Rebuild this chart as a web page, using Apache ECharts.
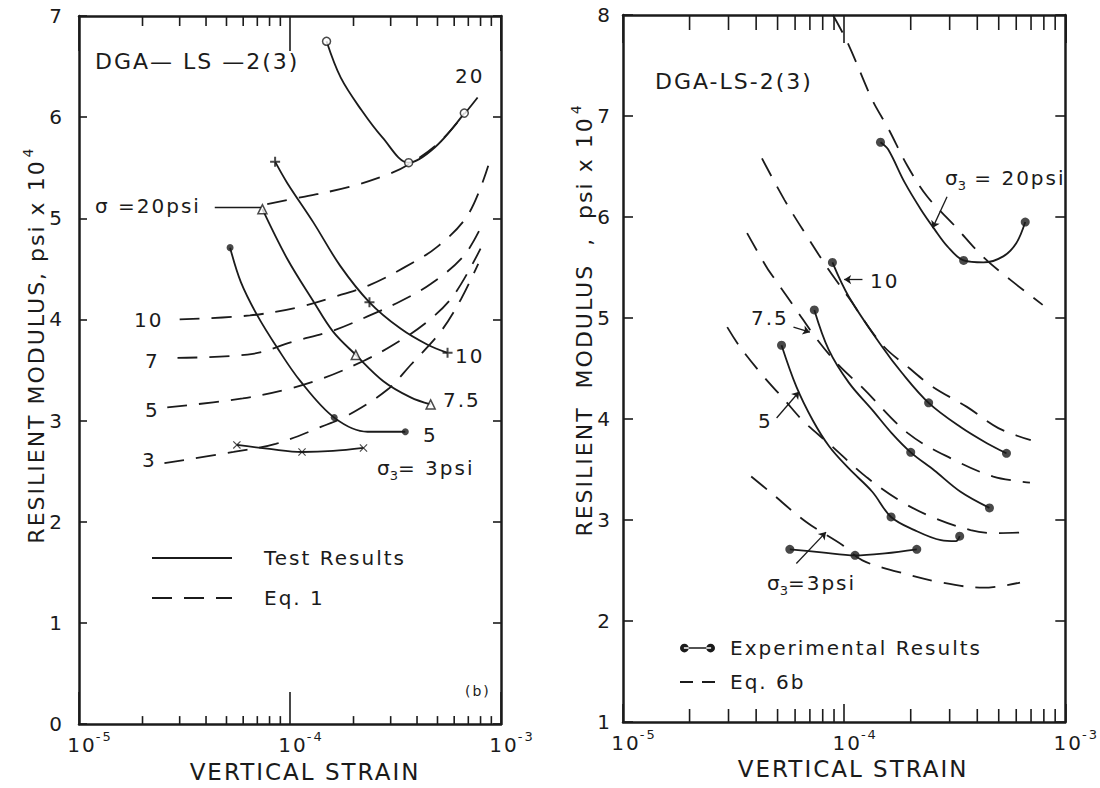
<!DOCTYPE html>
<html>
<head>
<meta charset="utf-8">
<script src="https://cdn.jsdelivr.net/npm/echarts@6.0.0/dist/echarts.min.js"></script>
<style>
  html, body { margin: 0; padding: 0; background: #fff; }
  #chart { width: 1100px; height: 788px; }
  /* the original lettering is widely spaced */
  #chart text { letter-spacing: 2px; }
</style>
</head>
<body>
<div id="chart"></div>
<script>
// ---- strain axis (both panels, log scale)
const strainDecades = [1e-5, 1e-4, 1e-3];
const strainMinorTicks = [2e-5, 3e-5, 4e-5, 5e-5, 6e-5, 7e-5, 8e-5, 9e-5,
                          2e-4, 3e-4, 4e-4, 5e-4, 6e-4, 7e-4, 8e-4, 9e-4];
const modulusRangeB = [0, 7];   // psi x 10^4, panel (b)
const modulusRangeR = [1, 8];   // psi x 10^4, right panel

// ---- panel (b): test results (markers) and traced curves, sigma3 = 20 / 10 / 7.5 / 5 / 3 psi
const test20 = [[1.49e-4, 6.75], [3.65e-4, 5.55], [6.7e-4, 6.04]];
const test20Trace = [[1.49e-4, 6.75], [1.74e-4, 6.39], [2.18e-4, 6.07], [2.74e-4, 5.80], [3.65e-4, 5.55], [4.85e-4, 5.70], [6.7e-4, 6.04]];
const test10 = [[8.5e-5, 5.56], [2.38e-4, 4.17], [5.58e-4, 3.67]];
const test10Trace = [[8.5e-5, 5.56], [9.7e-5, 5.35], [1.29e-4, 4.96], [1.73e-4, 4.53], [2.38e-4, 4.17], [3.34e-4, 3.91], [4.49e-4, 3.75], [5.58e-4, 3.67]];
const test75 = [[7.4e-5, 5.09], [2.05e-4, 3.65], [4.64e-4, 3.16]];
const test75Trace = [[7.4e-5, 5.09], [9.7e-5, 4.60], [1.29e-4, 4.18], [1.6e-4, 3.88], [2.05e-4, 3.65], [2.77e-4, 3.39], [3.73e-4, 3.23], [4.64e-4, 3.16]];
const test5 = [[5.2e-5, 4.71], [1.62e-4, 3.03], [3.52e-4, 2.89]];
const test5Trace = [[5.2e-5, 4.71], [5.85e-5, 4.37], [7.0e-5, 4.04], [8.7e-5, 3.72], [1.12e-4, 3.39], [1.62e-4, 3.03], [2.33e-4, 2.89], [3.52e-4, 2.89]];
const test3 = [[5.6e-5, 2.76], [1.14e-4, 2.69], [2.23e-4, 2.73]];
const test3Trace = [[5.6e-5, 2.76], [8.0e-5, 2.72], [1.14e-4, 2.69], [1.6e-4, 2.70], [2.23e-4, 2.73]];

// Eq. 1 curves
const eq1s20 = [[7.8e-5, 5.14], [1.14e-4, 5.21], [1.91e-4, 5.31], [2.96e-4, 5.44], [3.7e-4, 5.54], [5.03e-4, 5.74], [6.7e-4, 6.03], [8.2e-4, 6.26]];
const eq1s10 = [[3.0e-5, 4.00], [6.46e-5, 4.04], [1.09e-4, 4.12], [1.6e-4, 4.22], [2.38e-4, 4.34], [3.45e-4, 4.51], [5.0e-4, 4.72], [7.0e-4, 5.04], [8.7e-4, 5.52]];
const eq1s7 = [[2.93e-5, 3.62], [6.67e-5, 3.66], [1.03e-4, 3.78], [1.6e-4, 3.89], [2.33e-4, 4.03], [3.34e-4, 4.18], [4.64e-4, 4.35], [6.67e-4, 4.63], [8.2e-4, 4.95]];
const eq1s5 = [[2.62e-5, 3.13], [5.97e-5, 3.22], [9.7e-5, 3.31], [1.44e-4, 3.42], [2.23e-4, 3.59], [3.09e-4, 3.75], [4.49e-4, 3.98], [5.97e-4, 4.24], [8.0e-4, 4.70]];
const eq1s3 = [[2.54e-5, 2.58], [5.4e-5, 2.69], [8.55e-5, 2.77], [1.41e-4, 2.94], [1.91e-4, 3.06], [2.91e-4, 3.31], [3.73e-4, 3.55], [5.18e-4, 3.88], [6.46e-4, 4.2], [7.8e-4, 4.55]];
const leadersB = [[[4.4e-5, 5.11], [7.3e-5, 5.11]]];

// ---- right panel: experimental results and Eq. 6b
const exp20 = [[1.46e-4, 6.74], [3.47e-4, 5.57], [6.59e-4, 5.95]];
const exp20Trace = [[1.46e-4, 6.74], [1.58e-4, 6.67], [1.88e-4, 6.34], [2.23e-4, 6.07], [2.56e-4, 5.88], [2.93e-4, 5.71], [3.47e-4, 5.57], [4.27e-4, 5.55], [5.24e-4, 5.61], [6.0e-4, 5.74], [6.59e-4, 5.95]];
const exp10 = [[8.85e-5, 5.55], [2.41e-4, 4.16], [5.42e-4, 3.66]];
const exp10Trace = [[8.85e-5, 5.55], [1.05e-4, 5.21], [1.48e-4, 4.72], [1.82e-4, 4.46], [2.41e-4, 4.16], [3.36e-4, 3.92], [4.42e-4, 3.76], [5.42e-4, 3.66]];
const exp75 = [[7.33e-5, 5.08], [2.0e-4, 3.67], [4.54e-4, 3.12]];
const exp75Trace = [[7.33e-5, 5.08], [8.5e-5, 4.69], [1.05e-4, 4.36], [1.34e-4, 4.09], [1.64e-4, 3.86], [2.0e-4, 3.67], [2.56e-4, 3.49], [3.36e-4, 3.28], [4.54e-4, 3.12]];
const exp5 = [[5.21e-5, 4.73], [1.63e-4, 3.03], [3.33e-4, 2.84]];
const exp5Trace = [[5.21e-5, 4.73], [6.08e-5, 4.32], [7.2e-5, 3.99], [8.55e-5, 3.73], [1.05e-4, 3.51], [1.34e-4, 3.28], [1.63e-4, 3.03], [2.08e-4, 2.90], [2.74e-4, 2.80], [3.2e-4, 2.79], [3.33e-4, 2.84]];
const exp3 = [[5.68e-5, 2.71], [1.12e-4, 2.65], [2.13e-4, 2.71]];
const exp3Trace = [[5.68e-5, 2.71], [7.9e-5, 2.68], [1.12e-4, 2.65], [1.53e-4, 2.67], [2.13e-4, 2.71]];

const eq6s20 = [[8.9e-5, 8.0], [1.04e-4, 7.72], [1.34e-4, 7.16], [1.58e-4, 6.88], [1.94e-4, 6.50], [2.38e-4, 6.20], [3.14e-4, 5.92], [4.27e-4, 5.60], [5.63e-4, 5.38], [7.9e-4, 5.13]];
const eq6s10 = [[4.25e-5, 6.58], [5.37e-5, 6.17], [6.74e-5, 5.82], [8.5e-5, 5.48], [1.05e-4, 5.20], [1.48e-4, 4.74], [1.98e-4, 4.50], [2.51e-4, 4.32], [3.59e-4, 4.12], [4.98e-4, 3.91], [6.98e-4, 3.79]];
const eq6s75 = [[3.64e-5, 5.84], [4.47e-5, 5.50], [4.95e-5, 5.36], [6.08e-5, 5.08], [7.47e-5, 4.80], [9.47e-5, 4.53], [1.21e-4, 4.31], [1.94e-4, 3.86], [3.04e-4, 3.61], [4.73e-4, 3.43], [6.92e-4, 3.37]];
const eq6s5 = [[2.96e-5, 4.91], [3.39e-5, 4.71], [4.25e-5, 4.44], [5.37e-5, 4.19], [6.6e-5, 3.97], [8.5e-5, 3.76], [1.27e-4, 3.42], [1.82e-4, 3.18], [2.56e-4, 3.02], [3.73e-4, 2.90], [4.73e-4, 2.87], [6.92e-4, 2.88]];
const eq6s3 = [[3.8e-5, 3.43], [4.61e-5, 3.28], [6.74e-5, 2.98], [9.85e-5, 2.75], [1.21e-4, 2.60], [1.73e-4, 2.49], [2.77e-4, 2.38], [4.27e-4, 2.33], [6.24e-4, 2.38]];
const leadersR = [
  [[2.92e-4, 6.20], [2.51e-4, 5.89]],
  [[1.21e-4, 5.38], [1.0e-4, 5.38]],
  [[5.9e-5, 4.91], [7.0e-5, 4.86]],
  [[4.95e-5, 4.01], [6.26e-5, 4.27]],
  [[6.08e-5, 2.57], [8.28e-5, 2.88]]
];

const INK = '#1b1b1b';
const FONT = '"DejaVu Sans", "Liberation Sans", sans-serif';
const PLUS = 'path://M4,0h2v4h4v2h-4v4h-2v-4h-4v-2h4z';
const CROSS = 'path://M1,0L5,4L9,0L10,1L6,5L10,9L9,10L5,6L1,10L0,9L4,5L0,1z';
const DOT_LINE = 'path://M0,5a4.5,4.5 0 1,0 9,0a4.5,4.5 0 1,0 -9,0z M27,5a4.5,4.5 0 1,0 9,0a4.5,4.5 0 1,0 -9,0z M4,4.2h28v1.6h-28z';

let chart = echarts.init(document.getElementById('chart'), null, {renderer: 'svg'});

function curve(name, data, ax, dashed) {
  return {
    type: 'line', name: name, data: data, xAxisIndex: ax, yAxisIndex: ax,
    smooth: 0.35, symbol: 'none', silent: true, z: 3,
    lineStyle: {color: INK, width: 1.8, type: dashed ? [20, 12] : 'solid'},
    itemStyle: {color: INK}
  };
}
function marks(name, data, ax, symbol, size, open) {
  return {
    type: 'scatter', name: name, data: data, xAxisIndex: ax, yAxisIndex: ax,
    symbol: symbol, symbolSize: size, silent: true, z: 5,
    itemStyle: open ? {color: '#fff', borderColor: INK, borderWidth: 1.5} : {color: INK}
  };
}
function leaders(name, list, ax, arrow) {
  return {
    type: 'lines', name: name, coordinateSystem: 'cartesian2d', xAxisIndex: ax, yAxisIndex: ax,
    silent: true, z: 4, symbol: arrow ? ['none', 'arrow'] : 'none', symbolSize: 7,
    lineStyle: {color: INK, width: 1.3, opacity: 1, curveness: 0},
    data: list.map(c => ({coords: c}))
  };
}
// minor log ticks (2..9) drawn inward from bottom and top edge
function minorTicks(ax, yRange, lenBottom, lenTop) {
  return {
    type: 'custom', name: 'minor' + ax, xAxisIndex: ax, yAxisIndex: ax, silent: true, clip: false, z: 6,
    data: strainMinorTicks.map(v => [v, yRange[0]]),
    renderItem: function (params, api) {
      const v = api.value(0);
      const b = api.coord([v, yRange[0]]);
      const t = api.coord([v, yRange[1]]);
      return {type: 'group', children: [
        {type: 'line', shape: {x1: b[0], y1: b[1], x2: b[0], y2: b[1] - lenBottom}, style: {stroke: INK, lineWidth: 1.6}},
        {type: 'line', shape: {x1: t[0], y1: t[1], x2: t[0], y2: t[1] + lenTop}, style: {stroke: INK, lineWidth: 1.6}}
      ]};
    }
  };
}

const expRich = {
  sp: {width: 22},
  b: {fontSize: 20, lineHeight: 30, fontFamily: FONT, color: INK},
  sup: {fontSize: 13, verticalAlign: 'top', padding: [0, 0, 0, 3], fontFamily: FONT, color: INK}
};
function strainAxis(grid, pos, tickLen, lead) {
  const top = pos === 'top';
  return {
    gridIndex: grid, type: 'log', logBase: 10, position: pos,
    min: strainDecades[0], max: strainDecades[strainDecades.length - 1],
    axisLine: {show: true, onZero: false, lineStyle: {color: INK, width: 2.5}},
    axisTick: {show: true, inside: true, length: tickLen, lineStyle: {color: INK, width: 1.6}},
    axisLabel: top ? {show: false} : {
      margin: 6,
      formatter: v => '{sp|}{b|10}{sup|' + Math.round(Math.log10(v)) + '}',
      rich: expRich
    },
    splitLine: {show: false},
    name: top ? '' : '{a|}{b|VERTICAL STRAIN}',
    nameLocation: 'middle', nameGap: 32,
    nameTextStyle: {rich: {a: {width: lead || 0}, b: {fontSize: 23, fontFamily: FONT, color: INK}}}
  };
}
function modulusAxis(grid, pos, range, tickLen, margin, gap, title, lead, supPad) {
  const right = pos === 'right';
  return {
    gridIndex: grid, type: 'value', position: pos, min: range[0], max: range[1], interval: 1,
    axisLine: {show: true, onZero: false, lineStyle: {color: INK, width: 2.5}},
    axisTick: {show: true, inside: true, length: tickLen, lineStyle: {color: INK, width: 1.6}},
    axisLabel: right ? {show: false} : {margin: margin, fontSize: 20, fontFamily: FONT, color: INK},
    splitLine: {show: false},
    name: right ? '' : '{a|}{b|' + title + '}{sup|4}',
    nameLocation: 'middle', nameGap: gap,
    nameTextStyle: {rich: {
      a: {width: lead},
      b: {fontSize: 22, lineHeight: 30, fontFamily: FONT, color: INK},
      sup: {fontSize: 14, verticalAlign: 'top', padding: [0, 0, 0, supPad], fontFamily: FONT, color: INK}
    }}
  };
}

function text(x, y, str, size) {
  return {type: 'text', left: x, top: y, silent: true,
          style: {text: str, fontFamily: FONT, fontSize: size || 20, fill: INK}};
}
function sigma3(x, y, rest) {
  return {type: 'text', left: x, top: y, silent: true, style: {
    text: '{b|σ}{sub|3}{b|' + rest + '}',
    rich: {
      b: {fontSize: 20, lineHeight: 28, fontFamily: FONT, fill: INK},
      sub: {fontSize: 13, verticalAlign: 'bottom', fontFamily: FONT, fill: INK}
    }
  }};
}

let option = {
  backgroundColor: '#fff',
  animation: false,
  grid: [
    {left: 79, top: 16, width: 422, height: 712},
    {left: 623, top: 15, width: 450, height: 707}
  ],
  xAxis: [
    strainAxis(0, 'bottom', 32, 30),
    strainAxis(1, 'bottom', 18, 18),
    strainAxis(0, 'top', 35),
    strainAxis(1, 'top', 28)
  ],
  yAxis: [
    modulusAxis(0, 'left', modulusRangeB, 8, 15, 25, 'RESILIENT MODULUS, psi x 10', 76, 30),
    modulusAxis(1, 'left', modulusRangeR, 10, 11, 21, 'RESILIENT  MODULUS  ,  psi x 10', 127, 34),
    modulusAxis(0, 'right', modulusRangeB, 8),
    modulusAxis(1, 'right', modulusRangeR, 10)
  ],
  legend: [
    {
      data: ['Test Results', 'Eq. 1'], orient: 'vertical', left: 146, top: 543,
      itemWidth: 80, itemHeight: 14, itemGap: 20, selectedMode: false,
      itemStyle: {opacity: 0},
      formatter: n => '{sp|}' + n,
      textStyle: {fontFamily: FONT, fontSize: 20, color: INK, rich: {sp: {width: 27}}}
    },
    {
      data: [{name: 'Experimental Results', icon: DOT_LINE, itemStyle: {opacity: 1, color: INK, borderWidth: 0}}, 'Eq. 6b'],
      orient: 'vertical', left: 674, top: 633,
      itemWidth: 35, itemHeight: 10, itemGap: 14, selectedMode: false,
      itemStyle: {opacity: 0},
      lineStyle: {type: [13, 9]},
      formatter: n => '{sp|}' + n,
      textStyle: {fontFamily: FONT, fontSize: 20, color: INK, rich: {sp: {width: 10}}}
    }
  ],
  series: [
    // panel (b)
    curve('Test Results', test20Trace, 0), curve('Test Results', test10Trace, 0),
    curve('Test Results', test75Trace, 0), curve('Test Results', test5Trace, 0),
    curve('Test Results', test3Trace, 0),
    curve('Eq. 1', eq1s20, 0, true), curve('Eq. 1', eq1s10, 0, true), curve('Eq. 1', eq1s7, 0, true),
    curve('Eq. 1', eq1s5, 0, true), curve('Eq. 1', eq1s3, 0, true),
    marks('pts20', test20, 0, 'circle', 8, true),
    marks('pts10', test10, 0, PLUS, 10),
    marks('pts75', test75, 0, 'triangle', 9, true),
    marks('pts5', test5, 0, 'circle', 7),
    marks('pts3', test3, 0, CROSS, 8),
    leaders('leadB', leadersB, 0, false),
    minorTicks(0, modulusRangeB, 8, 10),
    // right panel
    curve('Experimental Results', exp20Trace, 1), curve('Experimental Results', exp10Trace, 1),
    curve('Experimental Results', exp75Trace, 1), curve('Experimental Results', exp5Trace, 1),
    curve('Experimental Results', exp3Trace, 1),
    curve('Eq. 6b', eq6s20, 1, true), curve('Eq. 6b', eq6s10, 1, true), curve('Eq. 6b', eq6s75, 1, true),
    curve('Eq. 6b', eq6s5, 1, true), curve('Eq. 6b', eq6s3, 1, true),
    marks('e20', exp20, 1, 'circle', 9), marks('e10', exp10, 1, 'circle', 9),
    marks('e75', exp75, 1, 'circle', 9), marks('e5', exp5, 1, 'circle', 9),
    marks('e3', exp3, 1, 'circle', 9),
    leaders('leadR', leadersR, 1, true),
    minorTicks(1, modulusRangeR, 13, 15)
  ],
  graphic: [
    // panel (b) annotations
    text(95, 50, 'DGA— LS —2(3)', 22),
    text(455, 66, '20'),
    text(95, 196, 'σ =20psi'),
    text(134, 310, '10'),
    text(145, 351, '7'),
    text(145, 400, '5'),
    text(142, 450, '3'),
    text(455, 346, '10'),
    text(443, 390, '7.5'),
    text(423, 425, '5'),
    sigma3(377, 458, '= 3psi'),
    text(465, 684, '(b)', 14),
    // right panel annotations
    text(655, 70, 'DGA-LS-2(3)', 22),
    sigma3(945, 168, ' = 20psi'),
    text(870, 271, '10'),
    text(751, 308, '7.5'),
    text(758, 411, '5'),
    sigma3(767, 573, '=3psi')
  ]
};

chart.setOption(option);
</script>
</body>
</html>
